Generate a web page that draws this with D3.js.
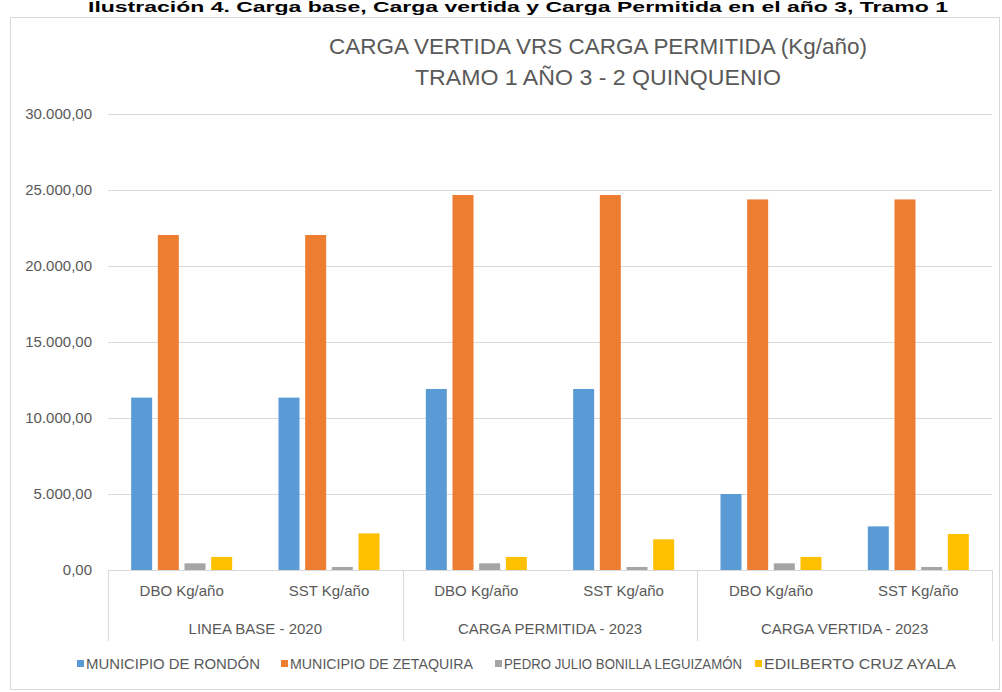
<!DOCTYPE html>
<html>
<head>
<meta charset="utf-8">
<script src="https://cdn.jsdelivr.net/npm/d3@7"></script>
<style>
  body { margin: 0; background: #fff; }
  text { font-family: "Liberation Sans", Arial, sans-serif; }
</style>
</head>
<body>
<div id="chart"></div>
<script>
// data
const groups = ["LINEA BASE - 2020", "CARGA PERMITIDA - 2023", "CARGA VERTIDA - 2023"];
const subs = ["DBO Kg/año", "SST Kg/año"];
const seriesNames = ["MUNICIPIO DE RONDÓN", "MUNICIPIO DE ZETAQUIRA", "PEDRO JULIO BONILLA LEGUIZAMÓN", "EDILBERTO CRUZ AYALA"];
const rondon    = [11340, 11340, 11910, 11910, 5000, 2870];
const zetaquira = [22040, 22040, 24670, 24670, 24380, 24380];
const pedro     = [440, 200, 440, 200, 440, 200];
const edilberto = [860, 2410, 860, 2020, 860, 2370];
const yTicks = [0, 5000, 10000, 15000, 20000, 25000, 30000];
const colors = ["#5B9BD5", "#ED7D31", "#A5A5A5", "#FFC000"];

const seriesValues = [rondon, zetaquira, pedro, edilberto];

const W = 1002, H = 692;
const plot = { left: 108, right: 992, top: 114, bottom: 570 };
const textCol = "#595959", gridCol = "#d9d9d9";

const svg = d3.select("#chart").append("svg")
    .attr("width", W)
    .attr("height", H);

// caption above the chart
svg.append("text")
    .attr("x", 518).attr("y", 12)
    .attr("text-anchor", "middle")
    .attr("textLength", 860).attr("lengthAdjust", "spacingAndGlyphs")
    .style("font-size", "14px").style("font-weight", "bold").style("fill", "#000")
    .text("Ilustración 4. Carga base, Carga vertida y Carga Permitida en el año 3, Tramo 1");

// chart frame
svg.append("rect")
    .attr("x", 10.5).attr("y", 17.5)
    .attr("width", 989).attr("height", 672)
    .attr("fill", "none").attr("stroke", gridCol);

// title
svg.append("text")
    .attr("x", 598).attr("y", 54)
    .attr("text-anchor", "middle")
    .attr("textLength", 538).attr("lengthAdjust", "spacingAndGlyphs")
    .style("font-size", "22px").style("fill", textCol)
    .text("CARGA VERTIDA VRS CARGA PERMITIDA (Kg/año)");
svg.append("text")
    .attr("x", 598).attr("y", 85)
    .attr("text-anchor", "middle")
    .attr("textLength", 366).attr("lengthAdjust", "spacingAndGlyphs")
    .style("font-size", "22px").style("fill", textCol)
    .text("TRAMO 1 AÑO 3 - 2 QUINQUENIO");

// scales
const y = d3.scaleLinear().domain([0, 30000]).range([plot.bottom, plot.top]);
const x0 = d3.scaleBand().domain(groups).range([plot.left, plot.right]).padding(0);
const x1 = d3.scaleBand().domain(subs).range([0, x0.bandwidth()]).padding(0);
const x2 = d3.scaleBand().domain(d3.range(seriesNames.length))
    .range([0, x1.bandwidth()])
    .paddingInner(0.2125).paddingOuter(0.868);

const fmt = d3.formatLocale({ decimal: ",", thousands: ".", grouping: [3], currency: ["", ""] }).format(",.2f");

// gridlines
svg.append("g")
    .selectAll("line")
    .data(yTicks.filter(d => d > 0))
    .enter().append("line")
    .attr("x1", plot.left).attr("x2", plot.right)
    .attr("y1", d => Math.round(y(d)) + 0.5).attr("y2", d => Math.round(y(d)) + 0.5)
    .attr("stroke", gridCol).attr("stroke-width", 1);

// y tick labels
svg.append("g")
    .selectAll("text")
    .data(yTicks)
    .enter().append("text")
    .attr("x", 92).attr("y", d => y(d))
    .attr("dy", "0.35em")
    .attr("text-anchor", "end")
    .style("font-size", "15px").style("fill", textCol)
    .text(d => fmt(d));

// bars
const cells = [];
groups.forEach((g, gi) => {
    subs.forEach((s, si) => {
        seriesValues.forEach((vals, k) => {
            cells.push({ g, s, k, value: vals[gi * subs.length + si] });
        });
    });
});

svg.append("g")
    .selectAll("rect")
    .data(cells)
    .enter().append("rect")
    .attr("x", d => x0(d.g) + x1(d.s) + x2(d.k))
    .attr("y", d => y(d.value))
    .attr("width", x2.bandwidth())
    .attr("height", d => y(0) - y(d.value))
    .attr("fill", d => colors[d.k]);

// x axis line and group separators
svg.append("line")
    .attr("x1", plot.left).attr("x2", plot.right)
    .attr("y1", plot.bottom + 0.5).attr("y2", plot.bottom + 0.5)
    .attr("stroke", gridCol);

const seps = groups.map(g => x0(g)).concat([plot.right]);
svg.append("g")
    .selectAll("line")
    .data(seps)
    .enter().append("line")
    .attr("x1", d => Math.round(d) + 0.5).attr("x2", d => Math.round(d) + 0.5)
    .attr("y1", plot.bottom).attr("y2", 641)
    .attr("stroke", gridCol);

// sub-category labels
groups.forEach(g => {
    svg.append("g")
        .selectAll("text")
        .data(subs)
        .enter().append("text")
        .attr("x", s => x0(g) + x1(s) + x1.bandwidth() / 2)
        .attr("y", 596)
        .attr("text-anchor", "middle")
        .style("font-size", "15px").style("fill", textCol)
        .text(s => s);
});

// group labels
svg.append("g")
    .selectAll("text")
    .data(groups)
    .enter().append("text")
    .attr("x", g => x0(g) + x0.bandwidth() / 2)
    .attr("y", 634)
    .attr("text-anchor", "middle")
    .style("font-size", "15px").style("fill", textCol)
    .text(g => g);

// legend (condensed to the widths of the original)
const legendX = [77, 281, 495, 755];
const legendW = [174, 183, 238, 192];
const legend = svg.append("g")
    .selectAll("g")
    .data(seriesNames)
    .enter().append("g")
    .attr("transform", (d, i) => `translate(${legendX[i]},664)`);
legend.append("rect")
    .attr("x", 0).attr("y", -4)
    .attr("width", 7).attr("height", 7)
    .attr("fill", (d, i) => colors[i]);
legend.append("text")
    .attr("x", 9).attr("y", 0)
    .attr("dy", "0.35em")
    .attr("textLength", (d, i) => legendW[i])
    .attr("lengthAdjust", "spacingAndGlyphs")
    .style("font-size", "15px").style("fill", textCol)
    .text(d => d);
</script>
</body>
</html>
